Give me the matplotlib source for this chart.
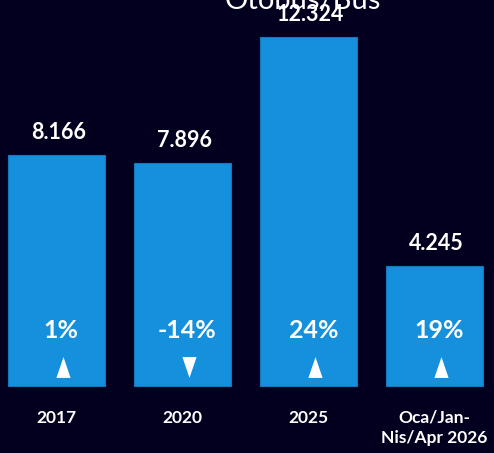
import matplotlib
matplotlib.use("Agg")
import matplotlib.pyplot as plt

# veriler
categories = ["2017", "2020", "2025", "Oca/Jan-\nNis/Apr 2026"]
values = [8166, 7896, 12324, 4245]
value_labels = ["8.166", "7.896", "12.324", "4.245"]
changes = ["1%", "-14%", "24%", "19%"]
directions = ["up", "down", "up", "up"]

bg = "#03001f"
bar_color = "#1590dc"

plt.rcParams["font.family"] = ["Lato", "DejaVu Sans"]

fig = plt.figure(figsize=(4.94, 4.53), dpi=100, facecolor=bg)
ax = fig.add_axes([0, 0, 1, 1])
ax.set_facecolor(bg)

x = list(range(len(categories)))
ax.bar(x, values, width=0.77, color=bar_color, edgecolor="#1577bd", linewidth=0.8)

ax.set_xlim(-0.448, 3.472)
ax.set_ylim(-2368, 13644)
ax.axis("off")

# dar üçgenler
tri_up = [(-0.34, -0.5), (0.34, -0.5), (0, 0.5), (-0.34, -0.5)]
tri_down = [(-0.34, 0.5), (0.34, 0.5), (0, -0.5), (-0.34, 0.5)]

for i, v in enumerate(values):
    # değer etiketi
    ax.annotate(value_labels[i], (i, v), xytext=(1.5, 11.5), textcoords="offset points",
                ha="center", va="baseline", color="white", fontsize=15.5, fontweight="bold")
    # yüzde değişim
    ax.annotate(changes[i], (i, 0), xytext=(3.5, 34.5), textcoords="offset points",
                ha="center", va="baseline", color="white", fontsize=18, fontweight="bold")
    marker = tri_up if directions[i] == "up" else tri_down
    ax.plot(i + 0.05, 672, marker=marker, color="white", markersize=15,
            markeredgewidth=0, linestyle="none")
    # kategori
    ax.annotate(categories[i], (i, 0), xytext=(0, -17), textcoords="offset points",
                ha="center", va="top", color="white", fontsize=12.5, fontweight="bold",
                linespacing=1.3)

# başlık (üstten kesik)
fig.text(303 / 494, 1 - 9 / 453, "Otobüs/Bus", ha="center", va="baseline",
         color="white", fontsize=21)

fig.savefig("out.png", dpi=100, facecolor=bg)
plt.close()
